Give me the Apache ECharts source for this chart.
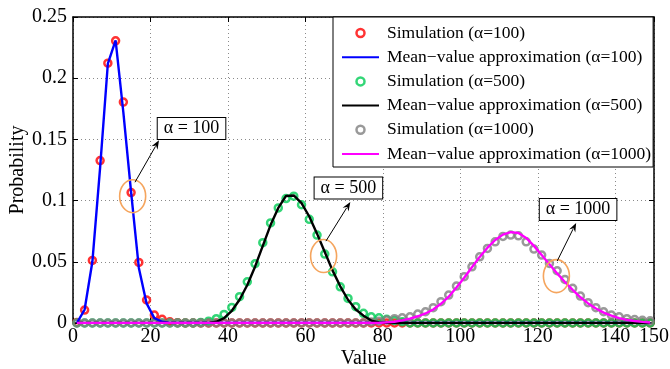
<!DOCTYPE html>
<html>
<head>
<meta charset="utf-8">
<script src="https://cdn.jsdelivr.net/npm/echarts@6/dist/echarts.min.js"></script>
<style>
  html, body { margin: 0; padding: 0; background: #fff; }
  #chart { width: 670px; height: 369px; }
</style>
</head>
<body>
<div id="chart"></div>
<script>
// x positions of the samples (odd values 1..149)
const xValues = [1, 3, 5, 7, 9, 11, 13, 15, 17, 19, 21, 23, 25, 27, 29, 31, 33, 35, 37, 39,
  41, 43, 45, 47, 49, 51, 53, 55, 57, 59, 61, 63, 65, 67, 69, 71, 73, 75, 77, 79,
  81, 83, 85, 87, 89, 91, 93, 95, 97, 99, 101, 103, 105, 107, 109, 111, 113, 115, 117, 119,
  121, 123, 125, 127, 129, 131, 133, 135, 137, 139, 141, 143, 145, 147, 149];

// simulation, alpha = 100
const simA100 = [0.0005, 0.0106, 0.0511, 0.1327, 0.2123, 0.2305, 0.1805, 0.1066, 0.0495, 0.0188,
  0.0065, 0.003, 0.001, 0.0003, 0, 0, 0, 0, 0, 0,
  0, 0, 0, 0, 0, 0, 0, 0, 0, 0, 0, 0, 0, 0, 0, 0, 0, 0, 0, 0,
  0, 0, 0, 0, 0, 0, 0, 0, 0, 0, 0, 0, 0, 0, 0, 0, 0, 0, 0, 0,
  0, 0, 0, 0, 0, 0, 0, 0, 0, 0, 0, 0, 0, 0, 0];
// mean-value approximation, alpha = 100
const mvaA100 = [0, 0.011, 0.05, 0.127, 0.212, 0.231, 0.172, 0.107, 0.045, 0.016,
  0.004, 0.001, 0, 0, 0, 0, 0, 0, 0, 0,
  0, 0, 0, 0, 0, 0, 0, 0, 0, 0, 0, 0, 0, 0, 0, 0, 0, 0, 0, 0,
  0, 0, 0, 0, 0, 0, 0, 0, 0, 0, 0, 0, 0, 0, 0, 0, 0, 0, 0, 0,
  0, 0, 0, 0, 0, 0, 0, 0, 0, 0, 0, 0, 0, 0, 0];
// simulation, alpha = 500
const simA500 = [0, 0, 0, 0, 0, 0, 0, 0, 0, 0, 0, 0, 0, 0, 0, 0,
  0.0005, 0.0015, 0.0035, 0.007, 0.0127, 0.0215, 0.0337, 0.0484, 0.0656, 0.0818,
  0.094, 0.1017, 0.1036, 0.0966, 0.0847, 0.0718, 0.0563, 0.0418, 0.0296, 0.0201,
  0.0133, 0.0079, 0.0051, 0.0043, 0.003, 0.002, 0.001,
  0, 0, 0, 0, 0, 0, 0, 0, 0, 0, 0, 0, 0, 0, 0, 0,
  0, 0, 0, 0, 0, 0, 0, 0, 0, 0, 0, 0, 0, 0, 0, 0];
// mean-value approximation, alpha = 500
const mvaA500 = [0, 0, 0, 0, 0, 0, 0, 0, 0, 0, 0, 0, 0, 0, 0, 0, 0, 0,
  0.001, 0.004, 0.010, 0.019, 0.031, 0.046, 0.063, 0.080, 0.094, 0.1038,
  0.1042, 0.098, 0.087, 0.073, 0.058, 0.043, 0.030, 0.019, 0.011, 0.006,
  0.002, 0.0005,
  0, 0, 0, 0, 0, 0, 0, 0, 0, 0, 0, 0, 0, 0, 0, 0, 0, 0,
  0, 0, 0, 0, 0, 0, 0, 0, 0, 0, 0, 0, 0, 0, 0, 0, 0];
// simulation, alpha = 1000
const simA1000 = [0, 0, 0, 0, 0, 0, 0, 0, 0, 0, 0, 0, 0, 0, 0, 0, 0, 0, 0,
  0, 0, 0, 0, 0, 0, 0, 0, 0, 0, 0, 0, 0, 0, 0, 0, 0, 0, 0,
  0.0008, 0.0015, 0.0025, 0.0035, 0.0042, 0.0051, 0.0073, 0.0092, 0.0125, 0.0174,
  0.0228, 0.0302, 0.0378, 0.0459, 0.0541, 0.0609, 0.0663, 0.0707, 0.0718, 0.0712,
  0.0663, 0.0604, 0.0555, 0.0487, 0.0427, 0.0356, 0.0283, 0.022, 0.0166, 0.0125,
  0.0092, 0.0065, 0.0051, 0.0035, 0.0028, 0.0022, 0.0018];
// mean-value approximation, alpha = 1000
const mvaA1000 = [0, 0, 0, 0, 0, 0, 0, 0, 0, 0, 0, 0, 0, 0, 0, 0, 0, 0, 0, 0,
  0, 0, 0, 0, 0, 0, 0, 0, 0, 0, 0, 0, 0, 0, 0, 0, 0, 0, 0, 0,
  0.0005, 0.001, 0.0022, 0.0035, 0.0055, 0.0078, 0.011, 0.0157, 0.0215, 0.029,
  0.037, 0.0455, 0.054, 0.0615, 0.0678, 0.0722, 0.0742, 0.0735, 0.0695, 0.063,
  0.0555, 0.048, 0.0405, 0.0335, 0.027, 0.021, 0.016, 0.0118, 0.0085, 0.006,
  0.004, 0.0026, 0.0016, 0.0009, 0.0004];

const xTicks = [0, 20, 40, 60, 80, 100, 120, 140, 150];

// callouts: ellipse centre, arrow start/end, label box centre (data coords)
const callouts = [
  { text: 'α = 100', ellipse: [15.4, 0.1036], from: [16.0, 0.115], to: [22.2, 0.1493], box: [30.6, 0.159] },
  { text: 'α = 500', ellipse: [64.7, 0.0547], from: [65.3, 0.0669], to: [71.6, 0.0989], box: [71.1, 0.1102] },
  { text: 'α = 1000', ellipse: [124.8, 0.0383], from: [125.0, 0.0506], to: [129.9, 0.0818], box: [130.4, 0.0928] },
];

const FONT = '"Liberation Serif", "Times New Roman", serif';

const toPairs = (ys) => xValues.map((x, i) => [x, ys[i]]);

const simSeries = (name, data, color) => ({
  name,
  type: 'scatter',
  data: toPairs(data),
  symbol: 'circle',
  symbolSize: 7,
  itemStyle: { color: 'none', borderColor: color, borderWidth: 2.5 },
  emphasis: { disabled: true },
  silent: true,
});

const lineSeries = (name, data, color) => ({
  name,
  type: 'line',
  data: toPairs(data),
  showSymbol: false,
  symbol: 'none',
  lineStyle: { color, width: 2.4 },
  itemStyle: { color },
  emphasis: { disabled: true },
  silent: true,
});

const gridLine = { show: true, lineStyle: { color: '#8a8a8a', width: 1, type: [1, 3] } };
const tickIn = { show: true, inside: true, length: 5, lineStyle: { color: '#000', width: 1 } };
const axisLine = { show: true, onZero: false, lineStyle: { color: '#000', width: 1.5 } };
const simIcon = (color) => ({ icon: 'circle', itemStyle: { color: 'none', borderColor: color, borderWidth: 2.5 } });
const lineIcon = { itemStyle: { opacity: 0 } };

const chart = echarts.init(document.getElementById('chart'), null, { renderer: 'canvas' });

const option = {
  animation: false,
  backgroundColor: '#fff',
  textStyle: { fontFamily: FONT },
  grid: { left: 73, right: 16, top: 17, bottom: 46, containLabel: false, outerBoundsMode: 'none' },
  legend: {
    orient: 'vertical',
    left: 333,
    top: 17,
    padding: [7, 2, 4, 8],
    itemWidth: 37,
    itemHeight: 8,
    itemGap: 6.2,
    backgroundColor: '#fff',
    borderColor: '#000',
    borderWidth: 1,
    borderRadius: 0,
    textStyle: { fontFamily: FONT, fontSize: 17.5, color: '#000', lineHeight: 18, padding: [0, 0, 0, 3] },
    data: [
      { name: 'Simulation (α=100)', ...simIcon('#ff0000') },
      { name: 'Mean−value approximation (α=100)', ...lineIcon },
      { name: 'Simulation (α=500)', ...simIcon('#00cc55') },
      { name: 'Mean−value approximation (α=500)', ...lineIcon },
      { name: 'Simulation (α=1000)', ...simIcon('#808080') },
      { name: 'Mean−value approximation (α=1000)', ...lineIcon },
    ],
  },
  xAxis: [
    {
      type: 'value', position: 'bottom', min: 0, max: 150,
      name: 'Value', nameLocation: 'middle', nameGap: 26, nameMoveOverlap: false,
      nameTextStyle: { fontFamily: FONT, fontSize: 20, color: '#000' },
      axisLine,
      axisTick: { ...tickIn, customValues: xTicks },
      axisLabel: { customValues: xTicks, fontFamily: FONT, fontSize: 20, color: '#000', margin: 4 },
      splitLine: gridLine,
    },
    {
      type: 'value', position: 'top', min: 0, max: 150,
      axisLine,
      axisTick: { ...tickIn, customValues: xTicks },
      axisLabel: { show: false },
      splitLine: { show: false },
    },
  ],
  yAxis: [
    {
      type: 'value', position: 'left', min: 0, max: 0.25, interval: 0.05,
      name: 'Probability', nameLocation: 'middle', nameGap: 45, nameMoveOverlap: false,
      nameTextStyle: { fontFamily: FONT, fontSize: 20, color: '#000' },
      axisLine,
      axisTick: tickIn,
      axisLabel: { fontFamily: FONT, fontSize: 20, color: '#000', margin: 6 },
      splitLine: gridLine,
    },
    {
      type: 'value', position: 'right', min: 0, max: 0.25, interval: 0.05,
      axisLine,
      axisTick: tickIn,
      axisLabel: { show: false },
      splitLine: { show: false },
    },
  ],
  series: [
    simSeries('Simulation (α=100)', simA100, '#ff0000'),
    lineSeries('Mean−value approximation (α=100)', mvaA100, '#0000ff'),
    simSeries('Simulation (α=500)', simA500, '#00cc55'),
    lineSeries('Mean−value approximation (α=500)', mvaA500, '#000000'),
    simSeries('Simulation (α=1000)', simA1000, '#808080'),
    lineSeries('Mean−value approximation (α=1000)', mvaA1000, '#ff00ff'),
  ],
};

chart.setOption(option);

// callout ellipses, arrows and labelled boxes
const graphics = [];
callouts.forEach((c) => {
  const e = chart.convertToPixel({ gridIndex: 0 }, c.ellipse);
  const p0 = chart.convertToPixel({ gridIndex: 0 }, c.from);
  const p1 = chart.convertToPixel({ gridIndex: 0 }, c.to);
  const b = chart.convertToPixel({ gridIndex: 0 }, c.box);
  graphics.push({
    type: 'ellipse', z: 100, silent: true,
    shape: { cx: e[0], cy: e[1], rx: 13, ry: 16.5 },
    style: { fill: 'none', stroke: '#f5a55e', lineWidth: 1.6 },
  });
  const dx = p1[0] - p0[0], dy = p1[1] - p0[1];
  const len = Math.sqrt(dx * dx + dy * dy);
  const ux = dx / len, uy = dy / len;
  const hl = 9, hw = 3.5;
  const bx = p1[0] - ux * hl, by = p1[1] - uy * hl;
  graphics.push({
    type: 'line', z: 100, silent: true,
    shape: { x1: p0[0], y1: p0[1], x2: bx + ux * 2, y2: by + uy * 2 },
    style: { stroke: '#000', lineWidth: 1 },
  });
  graphics.push({
    type: 'polygon', z: 100, silent: true,
    shape: { points: [[p1[0], p1[1]], [bx - uy * hw, by + ux * hw], [bx + ux * 3, by + uy * 3], [bx + uy * hw, by - ux * hw]] },
    style: { fill: '#000' },
  });
  graphics.push({
    type: 'text', z: 101, silent: true,
    x: b[0], y: b[1],
    style: {
      text: c.text, font: '18px ' + FONT, fill: '#000',
      align: 'center', verticalAlign: 'middle',
      backgroundColor: '#fff', borderColor: '#000', borderWidth: 1,
      padding: [2, 6, 1, 6],
    },
  });
});
chart.setOption({ graphic: graphics });
</script>
</body>
</html>
